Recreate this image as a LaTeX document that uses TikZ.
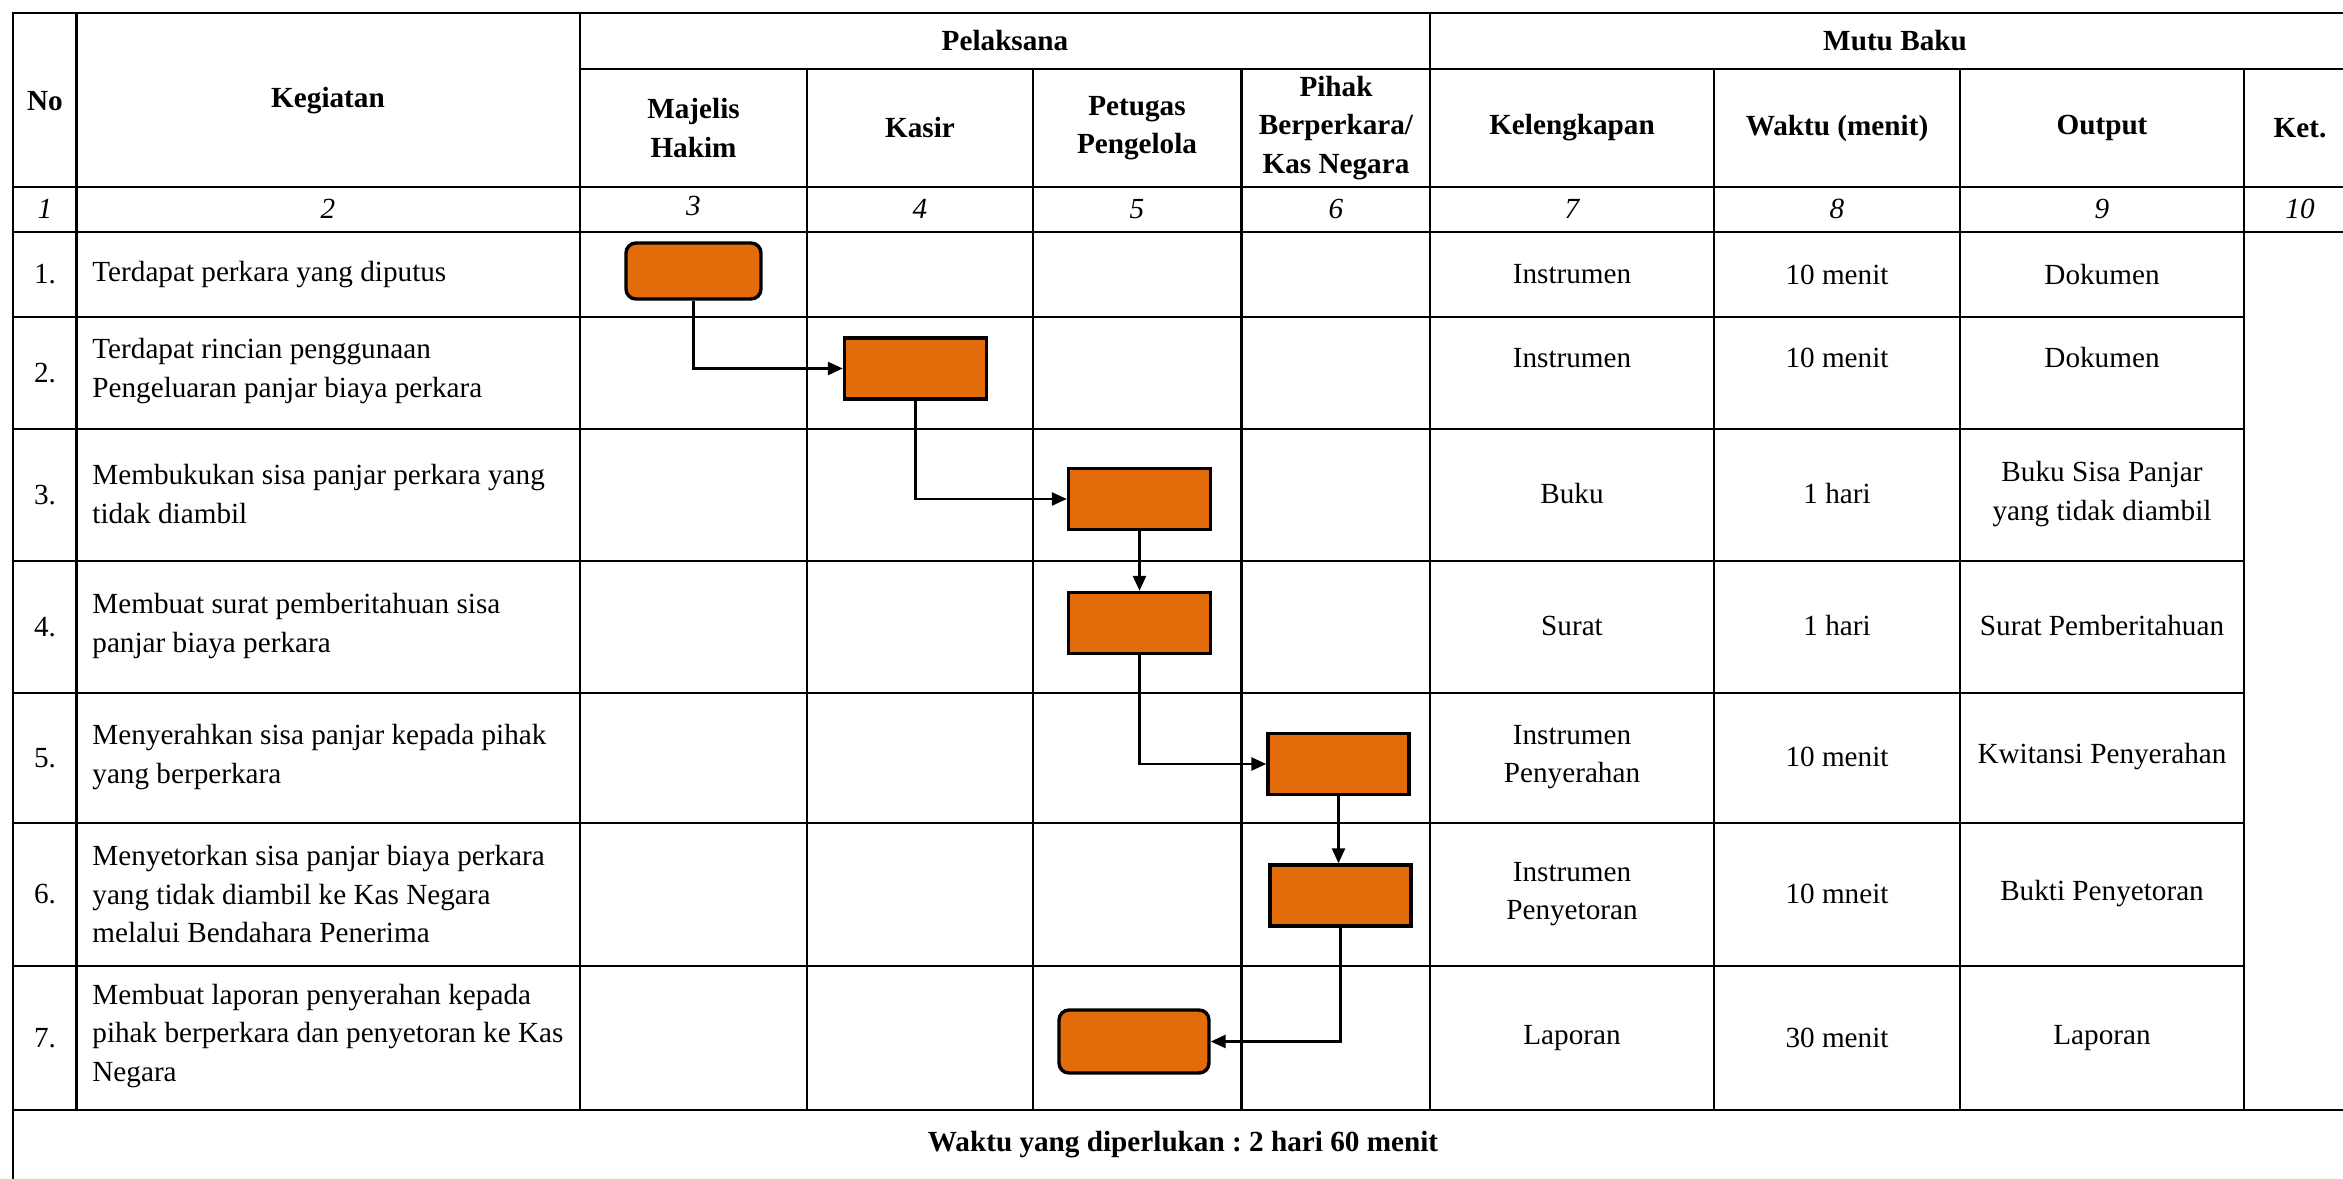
\documentclass[tikz,border=0pt]{standalone}
\usepackage{fontspec}
\setmainfont{Liberation Serif}
\usetikzlibrary{arrows.meta}
\definecolor{boxorange}{HTML}{E36C0A}
\frenchspacing

\begin{document}
\begin{tikzpicture}[x=0.5pt,y=-0.5pt,font=\fontsize{14.6}{19.2}\selectfont,
  rule/.style={line width=1.1pt},
  hd/.style={font=\fontsize{14.6}{19.2}\selectfont\bfseries,align=center,inner sep=0pt},
  colno/.style={font=\fontsize{14.6}{19.2}\selectfont\itshape,inner sep=0pt},
  cell/.style={align=center,inner sep=0pt},
  task/.style={align=left,anchor=west,inner sep=0pt},
  act/.style={draw,line width=1.7pt,fill=boxorange,minimum width=71pt,minimum height=30.5pt,inner sep=0pt},
  actend/.style={act,rounded corners=5pt},
  flow/.style={line width=1.3pt,-{Triangle[length=7.5pt,width=6.5pt]}}]
  \useasboundingbox (0,0) rectangle (2343,1178);
  \clip (0,0) rectangle (2343,1178);
  % table frame and rules
  \draw[rule] (13,1200) -- (13,13) -- (2360,13) -- (2360,1200) -- cycle;
  \draw[rule] (580,69) -- (2360,69);
  \draw[rule] (13,187) -- (2360,187);
  \draw[rule] (13,232) -- (2360,232);
  \draw[rule] (13,317) -- (2244,317) (13,429) -- (2244,429) (13,561) -- (2244,561);
  \draw[rule] (13,693) -- (2244,693) (13,823) -- (2244,823) (13,966) -- (2244,966);
  \draw[rule] (13,1110) -- (2360,1110);
  \draw[rule] (76.5,13) -- (76.5,1110) (580,13) -- (580,1110) (1430,13) -- (1430,1110);
  \draw[rule] (807,69) -- (807,1110) (1033,69) -- (1033,1110) (1241.5,69) -- (1241.5,1110);
  \draw[rule] (1714,69) -- (1714,1110) (1960,69) -- (1960,1110) (2244,69) -- (2244,1110);
  % header
  \node[hd] (hno) at (45,101) {No};
  \node[hd] (hkeg) at (328,101) {Kegiatan};
  \node[hd] (hpel) at (1005,41) {Pelaksana};
  \node[hd] (hmutu) at (1895,41) {Mutu Baku};
  \node[hd] (hmaj) at (693.5,128) {Majelis\\Hakim};
  \node[hd] (hkas) at (920,128) {Kasir};
  \node[hd] (hpet) at (1137,128) {Petugas\\Pengelola};
  \node[hd] (hpih) at (1336,128) {Pihak\\Berperkara/\\Kas Negara};
  \node[hd] (hkel) at (1572,128) {Kelengkapan};
  \node[hd] (hwkt) at (1837,128) {Waktu (menit)};
  \node[hd] (hout) at (2102,128) {Output};
  \node[hd] (hket) at (2300,128) {Ket.};
  \node[colno] (n1) at (45,209) {1};
  \node[colno] (n2) at (328,209) {2};
  \node[colno] (n3) at (693.5,206) {3};
  \node[colno] (n4) at (920,209) {4};
  \node[colno] (n5) at (1137,209) {5};
  \node[colno] (n6) at (1336,209) {6};
  \node[colno] (n7) at (1572,209) {7};
  \node[colno] (n8) at (1837,209) {8};
  \node[colno] (n9) at (2102,209) {9};
  \node[colno] (n10) at (2300,209) {10};
  % rows
  \node[cell] (no1) at (45,274.5) {1.};
  \node[task] (keg1) at (92,274.5) {Terdapat perkara yang diputus};
  \node[cell] (kel1) at (1572,274.5) {Instrumen};
  \node[cell] (wkt1) at (1837,274.5) {10 menit};
  \node[cell] (out1) at (2102,274.5) {Dokumen};
  \node[cell] (no2) at (45,373) {2.};
  \node[task] (keg2) at (92,371) {Terdapat rincian penggunaan\\Pengeluaran panjar biaya perkara};
  \node[cell] (kel2) at (1572,358) {Instrumen};
  \node[cell] (wkt2) at (1837,358) {10 menit};
  \node[cell] (out2) at (2102,358) {Dokumen};
  \node[cell] (no3) at (45,495) {3.};
  \node[task] (keg3) at (92,494) {Membukukan sisa panjar perkara yang\\tidak diambil};
  \node[cell] (kel3) at (1572,494) {Buku};
  \node[cell] (wkt3) at (1837,494) {1 hari};
  \node[cell] (out3) at (2102,494) {Buku Sisa Panjar\\yang tidak diambil};
  \node[cell] (no4) at (45,627) {4.};
  \node[task] (keg4) at (92,626) {Membuat surat pemberitahuan sisa\\panjar biaya perkara};
  \node[cell] (kel4) at (1572,626) {Surat};
  \node[cell] (wkt4) at (1837,626) {1 hari};
  \node[cell] (out4) at (2102,626) {Surat Pemberitahuan};
  \node[cell] (no5) at (45,758) {5.};
  \node[task] (keg5) at (92,757) {Menyerahkan sisa panjar kepada pihak\\yang berperkara};
  \node[cell] (kel5) at (1572,757) {Instrumen\\Penyerahan};
  \node[cell] (wkt5) at (1837,757) {10 menit};
  \node[cell] (out5) at (2102,757) {Kwitansi Penyerahan};
  \node[cell] (no6) at (45,894.5) {6.};
  \node[task] (keg6) at (92,894) {Menyetorkan sisa panjar biaya perkara\\yang tidak diambil ke Kas Negara\\melalui Bendahara Penerima};
  \node[cell] (kel6) at (1572,894) {Instrumen\\Penyetoran};
  \node[cell] (wkt6) at (1837,894) {10 mneit};
  \node[cell] (out6) at (2102,894) {Bukti Penyetoran};
  \node[cell] (no7) at (45,1038) {7.};
  \node[task] (keg7) at (92,1036) {Membuat laporan penyerahan kepada\\pihak berperkara dan penyetoran ke Kas\\Negara};
  \node[cell] (kel7) at (1572,1038) {Laporan};
  \node[cell] (wkt7) at (1837,1038) {30 menit};
  \node[cell] (out7) at (2102,1038) {Laporan};
  \node[hd] (total) at (1183,1145) {Waktu yang diperlukan : 2 hari 60 menit};
  % flow
  \node[actend,minimum width=67.5pt,minimum height=28pt] (s1) at (693.5,271) {};
  \node[act] (s2) at (915.5,368.5) {};
  \node[act] (s3) at (1139.5,499) {};
  \node[act] (s4) at (1139.5,623) {};
  \node[act,minimum width=70.5pt] (s5) at (1338.5,764) {};
  \node[act,minimum width=70.5pt] (s6) at (1340.5,895.5) {};
  \node[actend,minimum width=75pt,minimum height=31.5pt] (s7) at (1134,1041.5) {};
  \draw[flow] (s1.south) |- (s2.west);
  \draw[flow] (s2.south) |- (s3.west);
  \draw[flow] (s3.south) -- (s4.north);
  \draw[flow] (s4.south) |- (s5.west);
  \draw[flow] (s5.south) -- (s5.south |- s6.north);
  \draw[flow] (s6.south) |- (s7.east);
\end{tikzpicture}
\end{document}
